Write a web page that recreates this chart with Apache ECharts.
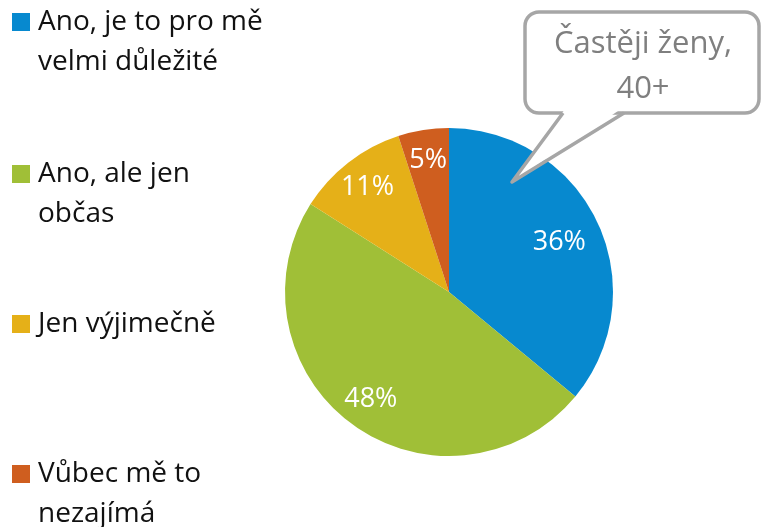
<!DOCTYPE html>
<html>
<head>
<meta charset="utf-8">
<script src="https://cdn.jsdelivr.net/npm/echarts@6/dist/echarts.min.js"></script>
<style>
  html, body { margin: 0; padding: 0; background: #fff; }
  #chart { width: 761px; height: 527px; }
</style>
</head>
<body>
<div id="chart"></div>
<script>
// data
const categories = ['Ano, je to pro mě\nvelmi důležité', 'Ano, ale jen\nobčas', 'Jen výjimečně', 'Vůbec mě to\nnezajímá'];
const values = [36, 48, 11, 5];
const colors = ['#0789cf', '#a0bf37', '#e5b018', '#cf5e1f'];
const calloutLines = ['Častěji ženy,', '40+'];

const FONT = '"Open Sans", sans-serif';
const LH = 40;                       // legend line height
const iconCenters = [22, 174, 324, 474];

var myChart = echarts.init(document.getElementById('chart'));

// one legend per entry; two-line names get an empty first line so the
// marker lines up with the first visible line
const legends = categories.map((name, i) => {
    const twoLines = name.indexOf('\n') !== -1;
    return {
        orient: 'vertical',
        left: 12,
        top: twoLines ? iconCenters[i] - 1.5 * LH : iconCenters[i] - LH / 2,
        padding: 0,
        itemWidth: 18,
        itemHeight: 18,
        icon: 'rect',
        selectedMode: false,
        data: [name],
        formatter: n => (twoLines ? '\n' + n : n),
        textStyle: {
            fontFamily: FONT,
            fontSize: 28,
            color: '#111',
            lineHeight: LH,
            padding: [0, 0, 0, 3]
        }
    };
});

const pieData = categories.map((name, i) => ({
    name: name,
    value: values[i],
    itemStyle: { color: colors[i] }
}));

const bubbleStroke = '#a6a6a6';

var option = {
    animation: false,
    legend: legends,
    series: [
        {
            type: 'pie',
            center: [449, 292],
            radius: 164,
            startAngle: 90,
            clockwise: true,
            silent: true,
            label: { show: false },
            labelLine: { show: false },
            itemStyle: { borderWidth: 0 },
            data: pieData
        },
        {
            // transparent ring only used to place the percent labels
            type: 'pie',
            center: [449, 292],
            radius: [96, 164],
            startAngle: 90,
            clockwise: true,
            silent: true,
            itemStyle: { color: 'rgba(0,0,0,0)', borderWidth: 0 },
            label: {
                show: true,
                position: 'inside',
                formatter: '{c}%',
                color: '#fff',
                fontFamily: FONT,
                fontSize: 27
            },
            labelLine: { show: false },
            data: categories.map((name, i) => {
                const d = { name: name, value: values[i] };
                if (i === 0) d.label = { offset: [-10, 7] };
                return d;
            })
        }
    ],
    graphic: [
        {
            type: 'rect',
            z: 100,
            shape: { x: 525, y: 12, width: 234, height: 101, r: 14 },
            style: { fill: '#fff', stroke: bubbleStroke, lineWidth: 3.5 }
        },
        {
            // white patch hiding the box edge under the pointer
            type: 'polygon',
            z: 101,
            shape: { points: [[565, 109], [512, 182], [621, 109]] },
            style: { fill: '#fff', stroke: null }
        },
        {
            type: 'polyline',
            z: 102,
            shape: { points: [[563, 113], [512, 182], [624, 113]] },
            style: { fill: null, stroke: bubbleStroke, lineWidth: 3.5, lineJoin: 'round' }
        },
        {
            type: 'text',
            z: 103,
            x: 643,
            y: 22,
            style: {
                text: calloutLines.join('\n'),
                fill: '#7f7f7f',
                font: '31px ' + FONT,
                lineHeight: 45,
                align: 'center'
            }
        }
    ]
};

myChart.setOption(option);
</script>
</body>
</html>
